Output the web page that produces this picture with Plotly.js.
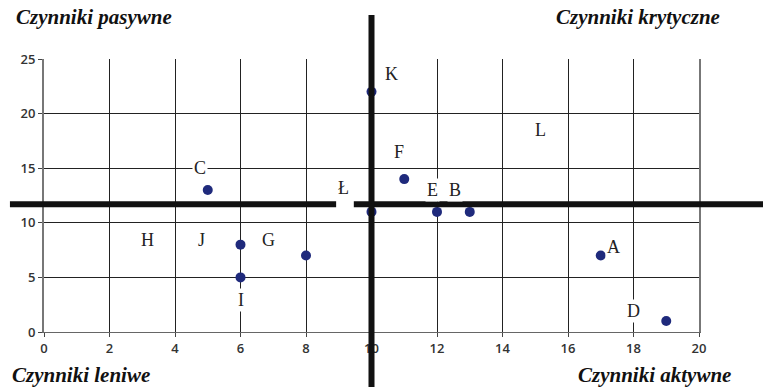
<!DOCTYPE html>
<html>
<head>
<meta charset="utf-8">
<script src="https://cdn.plot.ly/plotly-3.0.1.min.js"></script>
<style>
  html, body { margin: 0; padding: 0; background: #fff; }
  #chart { width: 763px; height: 387px; }
</style>
</head>
<body>
<div id="chart"></div>
<script>
// punkty (czynniki)
const dotX = [10, 5, 11, 12, 13, 10, 6, 6, 8, 17, 19];
const dotY = [22, 13, 14, 11, 11, 11, 8, 5, 7, 7, 1];

// etykiety literowe
const labelText = ['K', 'C', 'F', 'E', 'B', 'Ł', 'L', 'H', 'J', 'G', 'I', 'A', 'D'];
const labelX = [10.6, 4.75, 10.85, 11.85, 12.55, 9.15, 15.15, 3.15, 4.8, 6.85, 6, 17.4, 18];
const labelY = [23.6, 15, 16.5, 13, 13, 13.2, 18.5, 8.4, 8.4, 8.4, 2.9, 7.8, 1.9];

// ćwiartki
const quadText = ['Czynniki pasywne', 'Czynniki krytyczne', 'Czynniki leniwe', 'Czynniki aktywne'];

const splitX = 10;
const splitY = 11.7;

const dots = {
    type: 'scatter',
    mode: 'markers',
    x: dotX,
    y: dotY,
    marker: { color: '#1f2a7c', size: 10 },
    hoverinfo: 'x+y',
    cliponaxis: false
};

const annotations = labelText.map((t, i) => ({
    text: t,
    x: labelX[i],
    y: labelY[i],
    xref: 'x',
    yref: 'y',
    showarrow: false,
    bgcolor: '#ffffff',
    borderpad: 1,
    font: { family: 'Liberation Serif, Times New Roman, serif', size: 18, color: '#222' }
}));

const quadFont = { family: 'Liberation Serif, Times New Roman, serif', size: 21, color: '#111', weight: 'bold', style: 'italic' };
annotations.push(
    { text: quadText[0], xref: 'paper', yref: 'paper', x: -0.046, y: 1.154, xanchor: 'left', yanchor: 'middle', showarrow: false, font: quadFont },
    { text: quadText[1], xref: 'paper', yref: 'paper', x: 1.035, y: 1.154, xanchor: 'right', yanchor: 'middle', showarrow: false, font: quadFont },
    { text: quadText[2], xref: 'paper', yref: 'paper', x: -0.052, y: -0.158, xanchor: 'left', yanchor: 'middle', showarrow: false, font: quadFont },
    { text: quadText[3], xref: 'paper', yref: 'paper', x: 1.052, y: -0.158, xanchor: 'right', yanchor: 'middle', showarrow: false, font: quadFont }
);

const thick = { color: '#111', width: 6 };
const shapes = [
    { type: 'line', xref: 'paper', yref: 'y', x0: -0.052, x1: 0.446, y0: splitY, y1: splitY, line: thick, layer: 'above' },
    { type: 'line', xref: 'paper', yref: 'y', x0: 0.473, x1: 1.1, y0: splitY, y1: splitY, line: thick, layer: 'above' },
    { type: 'line', xref: 'x', yref: 'paper', x0: splitX, x1: splitX, y0: 1.161, y1: -0.21, line: thick, layer: 'above' }
];

const tickFont = { family: 'Open Sans, DejaVu Sans, sans-serif', size: 13, color: '#333', weight: 600 };

const layout = {
    width: 763,
    height: 387,
    margin: { l: 44, r: 64, t: 59, b: 55 },
    paper_bgcolor: '#fff',
    plot_bgcolor: '#fff',
    showlegend: false,
    xaxis: {
        range: [0, 20],
        dtick: 2,
        showgrid: true,
        gridcolor: '#222',
        gridwidth: 1,
        zeroline: false,
        showline: true,
        linecolor: '#666',
        linewidth: 1,
        ticks: 'outside',
        ticklen: 4,
        tickcolor: '#444',
        tickfont: tickFont,
        fixedrange: true
    },
    yaxis: {
        range: [0, 25],
        dtick: 5,
        showgrid: true,
        gridcolor: '#222',
        gridwidth: 1,
        zeroline: false,
        showline: true,
        mirror: true,
        linecolor: '#777',
        linewidth: 2,
        ticks: 'outside',
        ticklen: 4,
        tickcolor: '#444',
        tickfont: tickFont,
        fixedrange: true
    },
    shapes: shapes,
    annotations: annotations
};

Plotly.newPlot('chart', [dots], layout, { displayModeBar: false, staticPlot: true });
</script>
</body>
</html>
